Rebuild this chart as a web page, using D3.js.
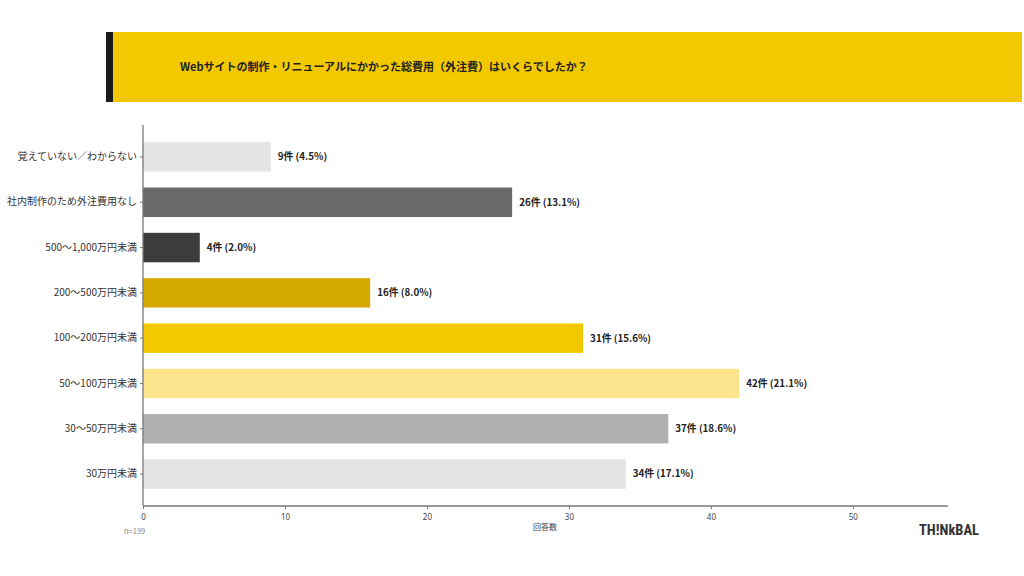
<!DOCTYPE html>
<html><head><meta charset="utf-8">
<script src="https://cdn.jsdelivr.net/npm/d3@7"></script>
<style>
html,body{margin:0;padding:0;background:#fff;}
svg{display:block;font-family:"Noto Sans CJK JP","Noto Sans",sans-serif;}
</style></head>
<body>
<svg id="c" width="1024" height="576"></svg>
<script>
const categories = ["覚えていない／わからない","社内制作のため外注費用なし","500〜1,000万円未満","200〜500万円未満","100〜200万円未満","50〜100万円未満","30〜50万円未満","30万円未満"];
const counts = [9,26,4,16,31,42,37,34];
const percents = ["4.5%","13.1%","2.0%","8.0%","15.6%","21.1%","18.6%","17.1%"];
const colors = ["#E4E4E4","#696969","#3C3C3C","#D4AA00","#F2C800","#FCE48C","#B0B0B0","#E4E4E4"];
const xTicks = [0,10,20,30,40,50];
const title = "Webサイトの制作・リニューアルにかかった総費用（外注費）はいくらでしたか？";

const svg = d3.select("#c");
// banner
svg.append("rect").attr("x",106).attr("y",32).attr("width",916).attr("height",70).attr("fill","#F2C800");
svg.append("rect").attr("x",106).attr("y",32).attr("width",7).attr("height",70).attr("fill","#1a1a1a");
svg.append("text").attr("x",180).attr("y",71).attr("font-size",11).attr("font-weight","bold").attr("fill","#222").text(title);

const pL=143, pR=948, pT=125, pB=506;
const x = d3.scaleLinear().domain([0,56.7]).range([pL,pR]);
const y = d3.scaleBand().domain(categories).range([pT,pB]).paddingInner(0.35).paddingOuter(0.38);

svg.selectAll("rect.bar").data(categories).enter().append("rect").attr("class","bar")
  .attr("x",x(0)).attr("y",d=>y(d)).attr("height",y.bandwidth())
  .attr("width",(d,i)=>x(counts[i])-x(0)).attr("fill",(d,i)=>colors[i]);

svg.selectAll("text.val").data(categories).enter().append("text").attr("class","val")
  .attr("x",(d,i)=>x(counts[i])+7).attr("y",d=>y(d)+y.bandwidth()/2).attr("dy","0.35em")
  .attr("font-size",9.8).attr("font-weight","bold").attr("fill","#222")
  .text((d,i)=>counts[i]+"件 ("+percents[i]+")");

// y axis
const ya = svg.append("g").attr("transform",`translate(${pL},0)`).call(d3.axisLeft(y).tickSize(3).tickPadding(3));
ya.select(".domain").attr("d",`M0,${pT}V${pB}`).attr("stroke","#777").attr("stroke-width",1.3);
ya.selectAll(".tick line").attr("stroke","#777");
ya.selectAll(".tick text").attr("font-size",10).attr("fill","#333").attr("font-family","\"Noto Sans CJK JP\",sans-serif");

// x axis
const xa = svg.append("g").attr("transform",`translate(0,${pB})`).call(d3.axisBottom(x).tickValues(xTicks).tickSize(3).tickPadding(5));
xa.select(".domain").attr("d",`M${pL},0H${pR}`).attr("stroke","#777").attr("stroke-width",1.3);
xa.selectAll(".tick line").attr("stroke","#777");
xa.selectAll(".tick text").attr("font-size",8).attr("fill","#444").attr("font-family","\"Liberation Sans Narrow\",\"Noto Sans\",sans-serif");

svg.append("text").attr("x",545).attr("y",530).attr("text-anchor","middle").attr("font-size",8).attr("fill","#444").text("回答数");
svg.append("text").attr("x",124).attr("y",534).attr("font-size",7.5).attr("fill","#888").text("n=199");
svg.append("text").attr("x",949).attr("y",535).attr("text-anchor","middle").attr("font-size",14.5).attr("font-weight","bold").attr("fill","#333").attr("font-family","\"Roboto Condensed\",\"Liberation Sans Narrow\",Roboto,sans-serif").text("TH!NkBAL");
</script>
</body></html>
